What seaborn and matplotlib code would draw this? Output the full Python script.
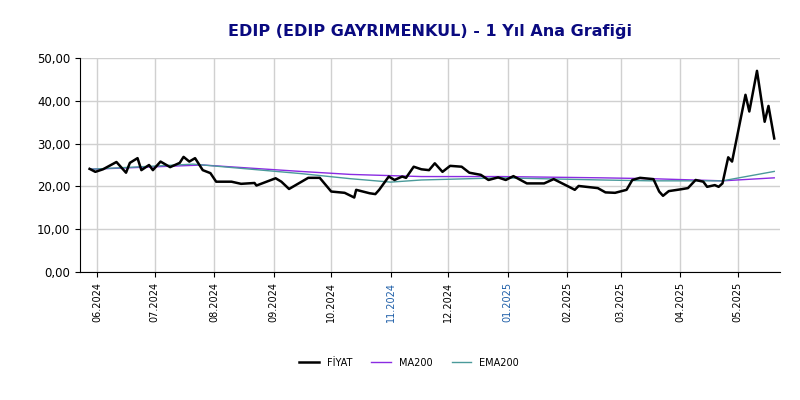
import matplotlib
matplotlib.use("Agg")
import matplotlib.pyplot as plt
import seaborn as sns
import pandas as pd
import numpy as np

start = pd.Timestamp("2024-06-01")
price_days = [-4,-1,3,10,15,17,21,23,27,29,33,38,43,45,48,51,55,59,62,70,75,82,83,93,96,100,105,110,116,122,129,134,135,142,145,147,152,155,159,161,165,169,173,176,180,184,190,194,200,204,209,213,217,224,233,238,246,249,251,261,265,270,276,279,283,290,293,295,298,304,308,312,316,318,322,324,326,329,331,338,340,344,348,350,353]
price_vals = [24.1,23.4,24.0,25.7,23.2,25.5,26.6,23.8,25.0,23.8,25.8,24.5,25.5,26.9,25.8,26.6,23.8,23.1,21.1,21.1,20.6,20.8,20.2,21.9,21.1,19.4,20.7,22.0,22.0,18.8,18.5,17.4,19.2,18.4,18.2,19.2,22.3,21.5,22.3,22.0,24.6,24.0,23.8,25.4,23.4,24.8,24.6,23.2,22.7,21.5,22.1,21.5,22.4,20.7,20.7,21.7,19.9,19.2,20.1,19.6,18.6,18.5,19.2,21.5,22.0,21.7,18.8,17.8,18.9,19.3,19.6,21.5,21.1,19.9,20.3,19.9,20.7,26.8,25.8,41.4,37.5,47.0,35.1,38.8,31.2]
ma_days = [-4,55,106,132,169,211,263,289,326,353]
ma_vals = [24.0,25.0,23.5,22.8,22.3,22.3,22.0,21.8,21.3,22.0]
ema_days = [-4,50,106,132,153,169,211,263,289,326,353]
ema_vals = [24.0,25.2,23.0,21.8,21.0,21.5,22.0,21.5,21.3,21.3,23.5]
y_ticks = [0,10,20,30,40,50]

def frame(days, vals, name):
    return pd.DataFrame({"date": start + pd.to_timedelta(days, unit="D"), "v": vals, "s": name})

df = pd.concat([frame(price_days, price_vals, "FİYAT"),
                frame(ma_days, ma_vals, "MA200"),
                frame(ema_days, ema_vals, "EMA200")])

fig, ax = plt.subplots(figsize=(8, 4), dpi=100)
fig.subplots_adjust(left=0.1, right=0.975, top=0.855, bottom=0.32)
pal = {"FİYAT": "black", "MA200": "#8a2be2", "EMA200": "#4a9a9a"}
widths = {"FİYAT": 1.8, "MA200": 1.0, "EMA200": 1.0}
for name in ["MA200", "EMA200", "FİYAT"]:
    sub = df[df.s == name]
    sns.lineplot(data=sub, x="date", y="v", color=pal[name], lw=widths[name], ax=ax, label=name)

ax.set_ylim(0, 50)
ax.set_yticks(y_ticks)
ax.set_yticklabels([f"{t:.2f}".replace(".", ",") for t in y_ticks], fontsize=8.5)
months = pd.date_range("2024-06-01", "2025-05-01", freq="MS")
ax.set_xticks(months)
ax.set_xticklabels([m.strftime("%m.%Y") for m in months], rotation=90, fontsize=7)
for lab in ax.get_xticklabels():
    if lab.get_text() in ("11.2024", "01.2025"):
        lab.set_color("#1f5fa8")
ax.set_xlim(pd.Timestamp("2024-05-23"), pd.Timestamp("2025-05-23"))
ax.set_xlabel(""); ax.set_ylabel("")
ax.grid(True, color="#d0d0d0", lw=1)
for s in ["top", "right"]:
    ax.spines[s].set_visible(False)
ax.set_title("EDIP (EDIP GAYRIMENKUL) - 1 Yıl Ana Grafiği", fontsize=11.5, fontweight="bold", color="#0a0a80", pad=16)
h, l = ax.get_legend_handles_labels()
order = [l.index("FİYAT"), l.index("MA200"), l.index("EMA200")]
ax.legend([h[i] for i in order], [l[i] for i in order], loc="upper center", bbox_to_anchor=(0.47, -0.36),
          ncol=3, frameon=False, fontsize=7)
fig.savefig("out.png")
